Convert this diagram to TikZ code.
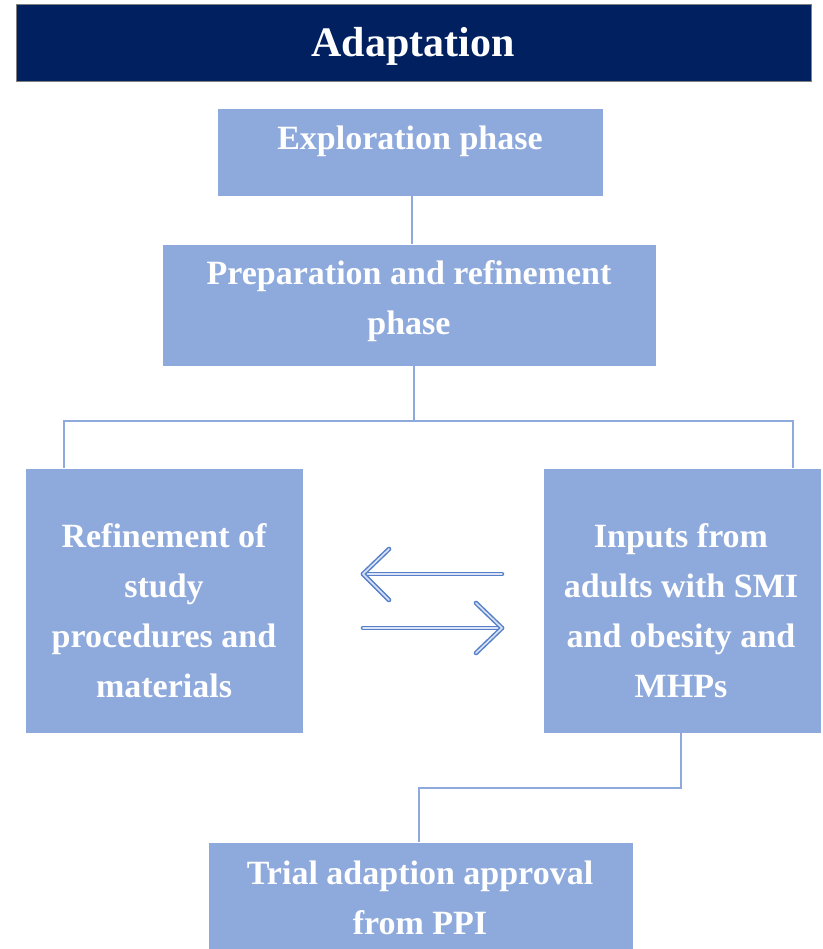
\documentclass[tikz,border=0pt]{standalone}
\usepackage{fontspec}
\setmainfont{Liberation Serif}
\definecolor{navy}{HTML}{002060}
\definecolor{boxblue}{HTML}{8EA9DB}
\definecolor{arrowblue}{HTML}{4472C4}
\tikzset{
  stagebox/.style={fill=boxblue, draw=white, line width=0.6pt, inner sep=0pt, outer sep=0pt, anchor=north west},
  stagetext/.style={text=white, align=center, font=\fontsize{34}{50}\selectfont\bfseries, inner sep=0pt},
  conn/.style={draw=boxblue, line width=1.8pt},
  flow/.style={draw=arrowblue!90, line width=1.5pt, double=white!80!arrowblue, double distance=1.6pt, line cap=round, line join=round}
}
\begin{document}
\begin{tikzpicture}[x=1pt, y=-1pt]
\useasboundingbox (0,0) rectangle (822,949);

% header bar
\node[fill=navy, draw=gray, line width=0.8pt, inner sep=0pt, anchor=north west,
      minimum width=795pt, minimum height=77pt] (title) at (16,4) {};
\node[text=white, font=\fontsize{42}{46}\selectfont\bfseries, inner sep=0pt] (titletxt) at (413,46) {Adaptation};

% stage boxes
\node[stagebox, minimum width=386pt, minimum height=88pt] (explore) at (217,108) {};
\node[stagebox, minimum width=494pt, minimum height=122pt] (prep) at (162,244) {};
\node[stagebox, minimum width=278pt, minimum height=265pt] (left) at (25,468) {};
\node[stagebox, minimum width=278pt, minimum height=265pt] (right) at (543,468) {};
\node[stagebox, minimum width=425pt, minimum height=110pt] (final) at (208,842) {};

% box labels
\node[stagetext] (exploretxt) at (410,141) {Exploration phase};
\node[stagetext] (preptxt) at (409,301) {Preparation and refinement\\phase};
\node[stagetext] (lefttxt) at (164,611) {Refinement of\\study\\procedures and\\materials};
\node[stagetext] (righttxt) at (681,611) {Inputs from\\adults with SMI\\and obesity and\\MHPs};
\node[stagetext] (finaltxt) at (420,898) {Trial adaption approval\\from PPI};

% tree connectors
\coordinate (jl) at (64,421);
\coordinate (jr) at (793,421);
\draw[conn] (explore.south -| 412,0) -- (prep.north -| 412,0);
\draw[conn] (prep.south -| 414,0) -- (414,421);
\draw[conn] (left.north -| jl) -- (jl) -- (jr) -- (right.north -| jr);
\draw[conn] (right.south -| 681,0) -- (681,788) -- (419,788) -- (final.north -| 419,0);

% exchange arrows between the two middle boxes
\coordinate (ltip) at (363,574);
\coordinate (rtip) at (502,628);
\draw[flow] (502,574) -- (ltip);
\draw[flow] (389,549) -- (ltip) -- (389,600);
\draw[flow] (363,628) -- (rtip);
\draw[flow] (476,603) -- (rtip) -- (476,653);
\end{tikzpicture}
\end{document}
